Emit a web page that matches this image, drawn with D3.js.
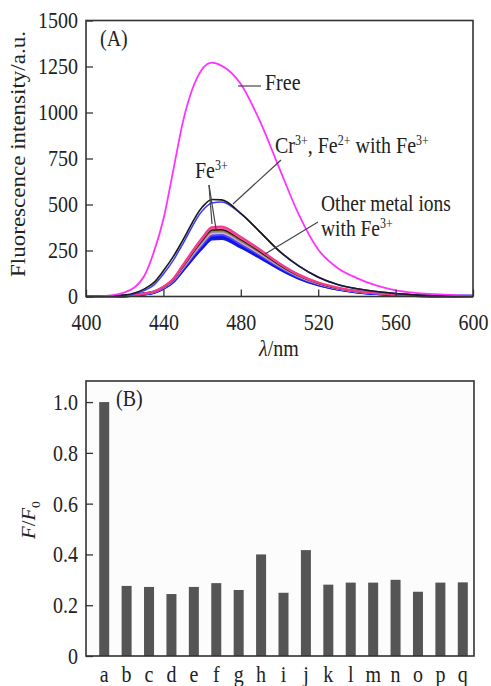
<!DOCTYPE html>
<html>
<head>
<meta charset="utf-8">
<title>Fluorescence spectra and F/F0</title>
<script src="https://d3js.org/d3.v7.min.js"></script>
<style>
body { margin: 0; background: #fff; }
text { font-family: "Liberation Serif", "Times New Roman", serif; fill: #222; }
</style>
</head>
<body>
<div id="main"></div>
<script>
// ---- data ----
var wavelength = [400,410,420,430,435,440,445,450,460,465,470,480,490,500,510,520,530,540,550,560,570,580,590,600];

var freeProbe  = [0,3,22,110,240,420,680,945,1235,1271,1255,1155,950,695,445,255,155,100,60,33,20,13,7,3];
var withCrFe   = [0,1,8,40,75,140,215,305,485,527,525,452,350,245,165,105,65,42,27,16,9,5,2,1];
var withFe2Fe  = [0,1,6,32,62,122,195,285,465,508,514,450,350,247,167,106,65,42,27,16,9,5,2,1];

var ionRed     = [0,0,3,16,27,53,95,170,318,376,380,323,254,180,119,76,48,30,19,12,6,3,2,1];
var ionPink    = [0,0,3,16,26,52,94,166,312,369,372,317,250,177,116,75,47,29,19,11,6,3,2,1];
var fe3Only    = [0,0,3,15,26,51,92,163,306,362,365,311,245,173,114,73,46,29,18,11,6,3,2,1];
var ionOlive   = [0,0,3,15,25,50,91,161,302,357,360,307,241,171,113,72,45,28,18,11,6,3,2,1];
var ionGray    = [0,0,3,15,25,49,88,157,295,349,352,300,236,167,110,71,44,28,18,11,6,3,2,1];
var ionLtPink  = [0,0,3,14,24,48,87,154,289,342,345,294,231,164,108,69,43,27,17,11,6,3,2,1];
var ionBlue1   = [0,0,3,14,23,47,84,150,281,332,335,285,225,159,105,67,42,26,17,10,6,3,2,1];
var ionBlue2   = [0,0,3,14,23,45,82,145,272,322,325,277,218,154,102,65,41,25,16,10,5,3,2,1];
var ionBlue3   = [0,0,3,13,22,44,79,141,264,312,315,268,211,150,99,63,40,25,16,10,5,3,2,1];

var yTicksA = [0,250,500,750,1000,1250,1500];
var xTicksA = [400,440,480,520,560,600];

var ions  = ["a","b","c","d","e","f","g","h","i","j","k","l","m","n","o","p","q"];
var ratio = [1.0,0.276,0.272,0.244,0.272,0.287,0.26,0.40,0.249,0.417,0.281,0.289,0.289,0.30,0.253,0.289,0.29];
var yTicksB = [0,0.2,0.4,0.6,0.8,1.0];

// drawing order: bottom of the bundle first
var spectra = [
	{v: ionBlue3,  c: "#1c1cc8", w: 3},
	{v: ionBlue2,  c: "#1010f0", w: 3},
	{v: ionBlue1,  c: "#4646ff", w: 2.5},
	{v: ionLtPink, c: "#f5a3c7", w: 1.8},
	{v: ionGray,   c: "#8c8c8c", w: 1.5},
	{v: ionOlive,  c: "#86691c", w: 1.8},
	{v: fe3Only,   c: "#111111", w: 1.8},
	{v: ionPink,   c: "#ff5aa8", w: 1.8},
	{v: ionRed,    c: "#f03c8c", w: 2.2},
	{v: withFe2Fe, c: "#3a3aff", w: 1.5},
	{v: withCrFe,  c: "#1a1a1a", w: 1.6},
	{v: freeProbe, c: "#ff33ff", w: 1.8}
];

var SY = 1.15;   // the picture is a little taller than it is wide
var screenWidth = 491, screenHeight = 686;

var svg = d3.select("#main").append("svg")
	.attr("width", screenWidth).attr("height", screenHeight);

function stext(parent, x, y, anchor, size) {
	return parent.append("text")
		.attr("transform", "translate(" + x + "," + y + ") scale(1," + SY + ")")
		.attr("text-anchor", anchor)
		.style("font-size", size + "px");
}
function sup(t, s) {
	t.append("tspan").attr("dy", -7).style("font-size", "12px").text(s);
	return t;
}
function base(t, s) {
	t.append("tspan").attr("dy", 7).text(s);
	return t;
}
function styleAxis(ax) {
	ax.select(".domain").remove();
	ax.selectAll("line").attr("stroke", "#333").attr("stroke-width", 1.3);
	ax.selectAll("text").attr("transform", "scale(1," + SY + ")")
		.style("font-size", "20px").attr("fill", "#222");
}

// ================= panel A =================
var xA = d3.scaleLinear().domain([400, 600]).range([86, 473]);
var yA = d3.scaleLinear().domain([0, 1500]).range([296.5, 20.5]);

var line = d3.line()
	.x(function(d, i) { return xA(wavelength[i]); })
	.y(function(d) { return yA(d); })
	.curve(d3.curveMonotoneX);

var gA = svg.append("g");
spectra.forEach(function(s) {
	gA.append("path").attr("d", line(s.v))
		.attr("fill", "none").attr("stroke", s.c)
		.attr("stroke-width", s.w).attr("stroke-linejoin", "round");
});

var axYA = gA.append("g").attr("transform", "translate(86,0)")
	.call(d3.axisLeft(yA).tickValues(yTicksA).tickSizeInner(-7).tickSizeOuter(0).tickPadding(8)
		.tickFormat(d3.format("d")));
var axXA = gA.append("g").attr("transform", "translate(0,296.5)")
	.call(d3.axisBottom(xA).tickValues(xTicksA).tickSizeInner(-7).tickSizeOuter(0).tickPadding(15)
		.tickFormat(d3.format("d")));
styleAxis(axYA);
styleAxis(axXA);

gA.append("rect").attr("x", 86).attr("y", 20.5).attr("width", 387).attr("height", 276)
	.attr("fill", "none").attr("stroke", "#333").attr("stroke-width", 1.6);

gA.append("text")
	.attr("transform", "translate(25,154) scale(1," + SY + ") rotate(-90)")
	.attr("text-anchor", "middle").style("font-size", "20px")
	.text("Fluorescence intensity/a.u.");

var lam = stext(gA, 279, 356, "middle", 20);
lam.append("tspan").style("font-style", "italic").text("\u03bb");
lam.append("tspan").text("/nm");

stext(gA, 100, 46, "start", 20).text("(A)");

// annotations
var lead = gA.append("g").attr("stroke", "#444").attr("stroke-width", 1.2).attr("fill", "none");
lead.append("line").attr("x1", 238).attr("y1", 86).attr("x2", 261).attr("y2", 86);
stext(gA, 265, 90, "start", 20).text("Free");

lead.append("line").attr("x1", 281).attr("y1", 160).attr("x2", 233).attr("y2", 204);
var cr = stext(gA, 275, 153, "start", 20);
cr.append("tspan").text("Cr"); sup(cr, "3+");
base(cr, ", Fe"); sup(cr, "2+");
base(cr, " with Fe"); sup(cr, "3+");

lead.append("line").attr("x1", 209).attr("y1", 185).attr("x2", 212).attr("y2", 224);
lead.append("line").attr("x1", 209).attr("y1", 185).attr("x2", 216).attr("y2", 229);
var fe = stext(gA, 195, 178, "start", 20);
fe.append("tspan").text("Fe"); sup(fe, "3+");

lead.append("line").attr("x1", 318).attr("y1", 222).attr("x2", 265).attr("y2", 254);
stext(gA, 321, 211, "start", 19.5).text("Other metal ions");
var wf = stext(gA, 321, 236, "start", 19.5);
wf.append("tspan").text("with Fe"); sup(wf, "3+");

// ================= panel B =================
var xB = d3.scaleBand().domain(ions).range([93, 474]).paddingInner(0.55).paddingOuter(0.275);
var yB = d3.scaleLinear().domain([0, 1.083]).range([656, 381]);

var gB = svg.append("g");
gB.append("rect").attr("x", 86).attr("y", 381).attr("width", 388).attr("height", 275)
	.attr("fill", "#fcfcfc");

gB.selectAll("rect.bar").data(ratio).enter().append("rect").attr("class", "bar")
	.attr("x", function(d, i) { return xB(ions[i]) + xB.bandwidth() / 2 - 5; })
	.attr("width", 10)
	.attr("y", function(d) { return yB(d); })
	.attr("height", function(d) { return yB(0) - yB(d); })
	.attr("fill", "#555555");

var axYB = gB.append("g").attr("transform", "translate(86,0)")
	.call(d3.axisLeft(yB).tickValues(yTicksB).tickSizeInner(-7).tickSizeOuter(0).tickPadding(8)
		.tickFormat(function(d) { return d === 0 ? "0" : d3.format(".1f")(d); }));
var axXB = gB.append("g").attr("transform", "translate(0,656)")
	.call(d3.axisBottom(xB).tickSize(0).tickPadding(8.5));
styleAxis(axYB);
styleAxis(axXB);

gB.append("rect").attr("x", 86).attr("y", 381).attr("width", 388).attr("height", 275)
	.attr("fill", "none").attr("stroke", "#333").attr("stroke-width", 1.6);

stext(gB, 116, 406, "start", 20).text("(B)");

var ff = gB.append("text")
	.attr("transform", "translate(35,520) scale(1," + SY + ") rotate(-90)")
	.attr("text-anchor", "middle").style("font-size", "18px");
ff.append("tspan").style("font-style", "italic").text("F");
ff.append("tspan").text("/");
ff.append("tspan").style("font-style", "italic").text("F");
ff.append("tspan").attr("dy", 5).style("font-size", "12px").text("0");
</script>
</body>
</html>
